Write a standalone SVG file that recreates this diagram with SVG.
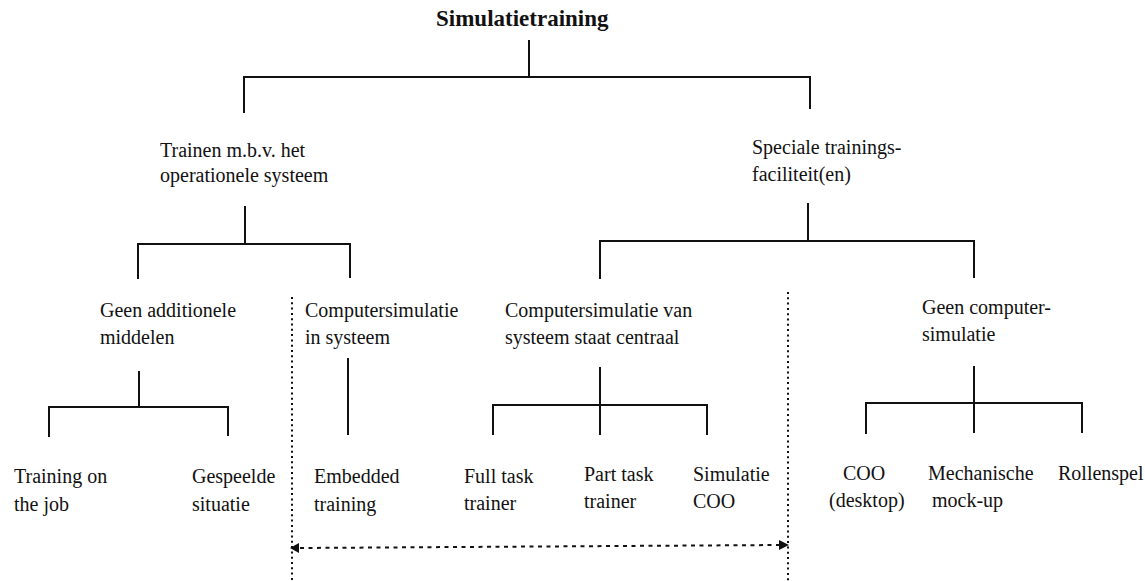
<svg xmlns="http://www.w3.org/2000/svg" width="1145" height="581" viewBox="0 0 1145 581">
<defs>
<style>
.t{font-family:"Liberation Serif","Times New Roman",serif;font-size:20px;fill:#111}
.title{font-family:"Liberation Serif","Times New Roman",serif;font-size:23px;font-weight:bold;fill:#111}
.ln{stroke:#111;stroke-width:2;fill:none;stroke-linecap:square}
.dot{stroke:#111;stroke-width:2;fill:none;stroke-dasharray:2 3.3}
.dash{stroke:#111;stroke-width:2;fill:none;stroke-dasharray:4 4.5}
</style>
</defs>
<rect width="1145" height="581" fill="#fff"/>
<g id="connectors">
<path class="ln" d="M529,41 V77 M244,112 V77 H810 V108"/>
<path class="ln" d="M245,207 V244 M138,278 V244 H350 V277"/>
<path class="ln" d="M808,204 V241 M600,278 V241 H974 V277"/>
<path class="ln" d="M139,372 V407 M49,436 V407 H228 V435"/>
<path class="ln" d="M348,359 V434"/>
<path class="ln" d="M600,368 V434 M493,434 V405 H707 V434"/>
<path class="ln" d="M974,367 V432 M866,433 V403 H1082 V432"/>
<path class="dot" d="M292,297 V581"/>
<path class="dot" d="M788,292 V581"/>
<path class="dash" d="M300,548 L779,545"/>
<path d="M290,548 L299,543 L299,553 z" fill="#111"/>
<path d="M789,545 L779,540 L779,550 z" fill="#111"/>
</g>
<g id="n-root"><text class="title" x="436" y="26">Simulatietraining</text></g>
<g id="n-trainen"><text class="t" x="160" y="157">Trainen m.b.v. het</text><text class="t" x="160" y="182">operationele systeem</text></g>
<g id="n-speciale"><text class="t" x="752" y="154">Speciale trainings-</text><text class="t" x="752" y="181">faciliteit(en)</text></g>
<g id="n-geenadd"><text class="t" x="100" y="317">Geen additionele</text><text class="t" x="100" y="344">middelen</text></g>
<g id="n-compsys"><text class="t" x="305" y="317">Computersimulatie</text><text class="t" x="305" y="344">in systeem</text></g>
<g id="n-compcentraal"><text class="t" x="505" y="317">Computersimulatie van</text><text class="t" x="505" y="344">systeem staat centraal</text></g>
<g id="n-geencomp"><text class="t" x="922" y="314">Geen computer-</text><text class="t" x="922" y="341">simulatie</text></g>
<g id="n-otj"><text class="t" x="14" y="483">Training on</text><text class="t" x="14" y="511">the job</text></g>
<g id="n-gespeeld"><text class="t" x="192" y="483">Gespeelde</text><text class="t" x="192" y="511">situatie</text></g>
<g id="n-embedded"><text class="t" x="314" y="483">Embedded</text><text class="t" x="314" y="511">training</text></g>
<g id="n-full"><text class="t" x="464" y="483">Full task</text><text class="t" x="464" y="510">trainer</text></g>
<g id="n-part"><text class="t" x="584" y="481">Part task</text><text class="t" x="584" y="508">trainer</text></g>
<g id="n-simcoo"><text class="t" x="693" y="481">Simulatie</text><text class="t" x="693" y="508">COO</text></g>
<g id="n-coo"><text class="t" x="843" y="480">COO</text><text class="t" x="829" y="507">(desktop)</text></g>
<g id="n-mech"><text class="t" x="928" y="480">Mechanische</text><text class="t" x="932" y="507">mock-up</text></g>
<g id="n-rollen"><text class="t" x="1058" y="480">Rollenspel</text></g>
</svg>
